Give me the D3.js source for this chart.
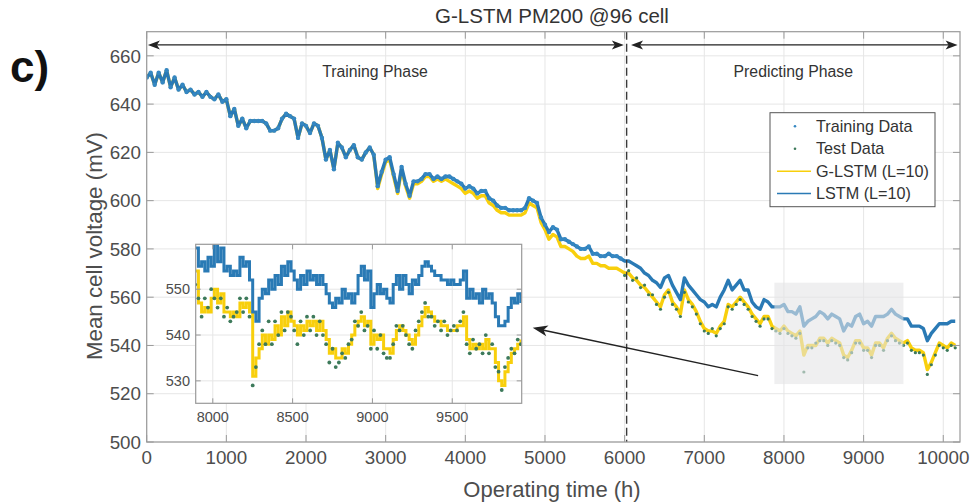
<!DOCTYPE html>
<html><head><meta charset="utf-8">
<script src="https://cdn.jsdelivr.net/npm/d3@7"></script>
<style>
html,body{margin:0;padding:0;background:#fff;}
svg{display:block;font-family:Arial,"Liberation Sans",Helvetica,sans-serif;}
</style></head>
<body>
<svg id="chart" width="974" height="503"></svg>
<script>
// ---------------- DATA ----------------
const mainStart = 0, mainStep = 50;           // hours, sampling of the main series
const trainingData = [ // 0 .. 5950 h
651,653,648,653,649,654,647,651,646,648,
645,646,644,645,643,645,643,642,644,641,
642,635,638,631,634,630,633,633,633,633,
632,629,629,630,634,636,635,634,626,632,
631,628,632,631,626,617,621,613,624,622,
618,621,623,618,617,620,622,619,606,612,
617,618,611,604,614,607,602,608,608,609,
611,611,609,610,609,610,610,609,608,607,
605,606,605,603,604,604,601,600,598,597,
597,596,596,596,596,597,601,600,599,593,
590,587,589,588,584,584,583,582,581,580,
580,581,578,578,577,577,578,577,577,576];
const testData = [ // 6000 .. 10150 h
569,571,567,568,564,565,561,561,557,555,560,562,557,555,552,562,558,556,553,549,
546,545,547,544,547,549,556,555,557,559,557,555,552,550,548,551,551,547,546,545,
547,545,544,543,545,529,539,539,541,542,542,540,542,541,540,535,534,537,541,541,
538,538,535,540,540,538,542,544,542,541,540,541,538,537,537,536,528,532,536,540,
539,538,540,539];
const glstmTrain = [ // G-LSTM fit, 0 .. 5950 h
651,653,648,653,649,654,647,651,646,648,
645,646,644,645,643,645,643,642,644,641,
642,635,638,631,634,630,633,633,633,633,
632,629,629,630,634,636,635,634,626,632,
631,628,632,631,626,617,621,613,624,622,
618,621,623,618,617,620,622,619,605,611,
616,617,610,603,613,606,601,607,607,608,
610,610,608,609,608,609,
608,607,606,605,603,604,603,601,602,602,
599,598,596,595,595,594,594,594,594,595,
599,598,597,591,588,584,586,585,581,581,
580,579,577,576,576,577,574,574,573,573,
572,572,572,571];
const glstmPredict = [ // 6000 .. 10150 h
570,570,568,567,565,564,562,560,558,556,561,563,558,556,553,563,559,557,554,550,
547,546,546,545,548,550,557,556,558,560,558,556,553,551,549,552,552,548,547,546,
548,546,545,544,546,536,540,540,540,543,543,541,543,542,541,536,535,538,542,542,
539,539,536,541,541,539,543,545,543,542,541,542,539,538,538,537,530,533,537,541,
540,539,541,540];
const lstmTrain = [ // LSTM fit, 0 .. 5950 h
651,653,648,653,649,654,647,651,646,648,
645,646,644,645,643,645,643,642,644,641,
642,635,638,631,634,630,633,633,633,633,
632,629,629,630,634,636,635,634,626,632,
631,628,632,631,626,617,621,613,624,622,
618,621,623,618,617,620,622,619,606,612,
617,618,611,604,614,607,602,608,608,609,
611,611,609,610,609,610,610,609,608,607,
605,606,605,603,604,604,601,600,598,597,
597,596,596,596,596,597,601,600,599,593,
590,587,589,588,584,584,583,582,581,580,
580,581,578,578,577,577,578,577,577,576];
const lstmPredict = [ // 6000 .. 10150 h
575,575,574,573,572,570,569,567,566,564,568,569,565,562,559,568,565,563,561,559,
558,556,557,556,560,563,567,563,565,567,563,563,558,556,555,559,558,556,556,556,
557,554,554,553,556,548,550,551,552,554,553,551,553,552,551,546,549,548,552,553,
549,550,548,552,552,552,553,555,553,552,551,551,548,548,548,547,542,545,547,549,
549,549,550,550];

// inset (zoom) series, 7890 .. 9930 h every 20 h
const insetStart = 7890, insetStep = 20;
const insetLSTM = [
559,555,556,554,557,555,560,556,559,554,555,553,554,553,557,555,556,552,545,543,
548,550,549,552,550,553,551,555,553,556,554,552,550,553,551,554,552,553,551,553,
551,549,547,546,548,547,550,548,549,547,549,553,555,552,554,546,549,551,549,550,
548,547,551,553,550,553,551,549,552,551,553,555,556,555,554,553,553,552,552,551,
552,551,551,552,554,548,550,548,549,547,550,548,549,547,544,542,542,543,546,548,
547,549,547];
const insetGLSTM = [
554,547,545,546,545,548,550,547,549,545,545,544,545,544,547,546,547,545,531,535,
537,540,538,540,539,542,540,544,542,545,543,542,540,542,541,543,542,543,541,543,
541,539,536,537,535,535,537,536,538,540,542,543,544,542,543,538,540,539,540,537,
537,536,539,541,542,541,540,539,538,540,542,544,546,545,544,543,543,542,542,541,
541,541,542,542,544,539,537,538,537,538,537,539,537,537,534,530,529,532,534,536,
537,538,539];
const insetTest = [
551,548,544,548,546,550,548,546,548,544,546,543,544,545,548,545,548,544,529,533,
538,541,538,543,538,543,540,545,541,545,544,541,538,543,540,544,541,544,540,543,
540,538,534,537,533,534,536,535,538,539,543,542,545,541,542,537,541,537,540,536,
535,535,538,542,541,542,540,538,537,541,543,545,547,544,544,542,543,541,543,540,
541,542,541,543,545,538,536,539,537,538,536,540,536,538,533,532,528,533,535,537,
536,539,538];

const xTicks = [0,1000,2000,3000,4000,5000,6000,7000,8000,9000,10000];
const yTicks = [500,520,540,560,580,600,620,640,660];
const insetXTicks = [8000,8500,9000,9500];
const insetYTicks = [530,540,550];
const legendLabels = ["Training Data","Test Data","G-LSTM (L=10)","LSTM (L=10)"];
const titleText = "G-LSTM PM200 @96 cell";
const splitHour = 6025;
const zoomBox = {x0:7880, x1:9500, y0:524, y1:566};

// ---------------- STYLE ----------------
const C = {
  lstm:'#2a7ab5', glstm:'#f8cf0c', train:'#3587c2', test:'#3d7a5b',
  grid:'#e6e6e6', axis:'#9a9a9a', tick:'#4d4d4d'
};

// ---------------- BUILD ----------------
const svg = d3.select('#chart');
svg.append('rect').attr('width',974).attr('height',503).attr('fill','#fff');

const M = {l:146.7, r:960, t:31.7, b:442};
const x = d3.scaleLinear().domain([0,10210]).range([M.l,M.r]);
const y = d3.scaleLinear().domain([500,670]).range([M.b,M.t]);

const tMain = i => mainStart + i*mainStep;
const trainPts = trainingData.map((v,i)=>({t:tMain(i),v}));
const testPts = testData.map((v,i)=>({t:tMain(i+trainingData.length),v}));
const glstmPts = glstmTrain.concat(glstmPredict).map((v,i)=>({t:tMain(i),v}));
const lstmPts = lstmTrain.concat(lstmPredict).map((v,i)=>({t:tMain(i),v}));

// grid
const g = svg.append('g');
g.selectAll('.gx').data(xTicks).join('line')
  .attr('x1',d=>x(d)).attr('x2',d=>x(d)).attr('y1',M.t).attr('y2',M.b)
  .attr('stroke',C.grid).attr('stroke-width',1);
g.selectAll('.gy').data(yTicks).join('line')
  .attr('x1',M.l).attr('x2',M.r).attr('y1',d=>y(d)).attr('y2',d=>y(d))
  .attr('stroke',C.grid).attr('stroke-width',1);

svg.append('clipPath').attr('id','clipMain').append('rect')
  .attr('x',M.l).attr('y',M.t).attr('width',M.r-M.l).attr('height',M.b-M.t);
const data = svg.append('g').attr('clip-path','url(#clipMain)');

const lineMain = d3.line().x(d=>x(d.t)).y(d=>y(d.v));
data.append('path').datum(glstmPts).attr('d',lineMain).attr('fill','none')
  .attr('stroke',C.glstm).attr('stroke-width',3.4).attr('stroke-linejoin','round');
data.selectAll('.te').data(testPts).join('circle')
  .attr('cx',d=>x(d.t)).attr('cy',d=>y(d.v)).attr('r',1.6).attr('fill',C.test);
data.append('path').datum(lstmPts).attr('d',lineMain).attr('fill','none')
  .attr('stroke',C.lstm).attr('stroke-width',3.4).attr('stroke-linejoin','round');
data.selectAll('.tr').data(trainPts).join('circle')
  .attr('cx',d=>x(d.t)).attr('cy',d=>y(d.v)).attr('r',2.2).attr('fill',C.train);

// zoom box
svg.append('rect')
  .attr('x',x(zoomBox.x0)).attr('y',y(zoomBox.y1))
  .attr('width',x(zoomBox.x1)-x(zoomBox.x0)).attr('height',y(zoomBox.y0)-y(zoomBox.y1))
  .attr('fill','#e4e4e6').attr('opacity',0.6);

// split line
svg.append('line').attr('x1',x(splitHour)).attr('x2',x(splitHour))
  .attr('y1',M.t).attr('y2',M.b).attr('stroke','#3a3a3a').attr('stroke-width',1.4)
  .attr('stroke-dasharray','8,4');

// axes box + ticks
svg.append('rect').attr('x',M.l).attr('y',M.t).attr('width',M.r-M.l).attr('height',M.b-M.t)
  .attr('fill','none').attr('stroke',C.axis).attr('stroke-width',1.2);
const tk = svg.append('g').attr('stroke',C.axis).attr('stroke-width',1);
xTicks.forEach(d=>{
  tk.append('line').attr('x1',x(d)).attr('x2',x(d)).attr('y1',M.b).attr('y2',M.b-7);
  tk.append('line').attr('x1',x(d)).attr('x2',x(d)).attr('y1',M.t).attr('y2',M.t+7);
});
yTicks.forEach(d=>{
  tk.append('line').attr('x1',M.l).attr('x2',M.l+7).attr('y1',y(d)).attr('y2',y(d));
  tk.append('line').attr('x1',M.r).attr('x2',M.r-7).attr('y1',y(d)).attr('y2',y(d));
});
svg.append('g').selectAll('text').data(xTicks).join('text')
  .attr('x',d=>x(d)).attr('y',463.5).attr('text-anchor','middle')
  .attr('font-size',18.8).attr('fill',C.tick).text(d=>d);
svg.append('g').selectAll('text').data(yTicks).join('text')
  .attr('x',141).attr('y',d=>y(d)+6.7).attr('text-anchor','end')
  .attr('font-size',18.8).attr('fill',C.tick).text(d=>d);

// axis labels, title, panel letter
svg.append('text').attr('x',552).attr('y',497).attr('text-anchor','middle')
  .attr('font-size',22).attr('fill','#4d4d4d').text('Operating time (h)');
svg.append('text').attr('transform','translate(101.5,246) rotate(-90)')
  .attr('text-anchor','middle').attr('font-size',22.3).attr('fill','#4d4d4d')
  .text('Mean cell voltage (mV)');
svg.append('text').attr('x',552).attr('y',22.5).attr('text-anchor','middle')
  .attr('font-size',20.5).attr('fill','#333').text(titleText);
svg.append('text').attr('x',10).attr('y',82).attr('font-size',44).attr('font-weight','bold')
  .attr('fill','#111').text('c)');

// phase arrows
function dblArrow(x1,x2,yy){
  const a = svg.append('g');
  a.append('line').attr('x1',x1+3).attr('x2',x2-3).attr('y1',yy).attr('y2',yy)
    .attr('stroke','#222').attr('stroke-width',1.3);
  a.append('path').attr('d',`M${x1},${yy} L${x1+12},${yy-4.5} L${x1+9},${yy} L${x1+12},${yy+4.5} Z`).attr('fill','#222');
  a.append('path').attr('d',`M${x2},${yy} L${x2-12},${yy-4.5} L${x2-9},${yy} L${x2-12},${yy+4.5} Z`).attr('fill','#222');
}
dblArrow(x(15),x(5990),y(664.5));
dblArrow(x(6080),x(10180),y(664.5));
svg.append('text').attr('x',x(2866)).attr('y',y(651.4)).attr('text-anchor','middle')
  .attr('font-size',15.8).attr('fill','#333').text('Training Phase');
svg.append('text').attr('x',x(8117)).attr('y',y(651.4)).attr('text-anchor','middle')
  .attr('font-size',15.8).attr('fill','#333').text('Predicting Phase');

// ---------------- INSET ----------------
const I = {l:195.7, r:521.7, t:244.3, b:403.3};
const xi = d3.scaleLinear().domain([7893,9935]).range([I.l,I.r]);
const yi = d3.scaleLinear().domain([525.1,559.8]).range([I.b,I.t]);
const ins = svg.append('g');
ins.append('rect').attr('x',I.l).attr('y',I.t).attr('width',I.r-I.l).attr('height',I.b-I.t).attr('fill','#fff');
ins.selectAll('.igx').data(insetXTicks).join('line')
  .attr('x1',d=>xi(d)).attr('x2',d=>xi(d)).attr('y1',I.t).attr('y2',I.b).attr('stroke',C.grid);
ins.selectAll('.igy').data(insetYTicks).join('line')
  .attr('x1',I.l).attr('x2',I.r).attr('y1',d=>yi(d)).attr('y2',d=>yi(d)).attr('stroke',C.grid);
svg.append('clipPath').attr('id','clipIns').append('rect')
  .attr('x',I.l).attr('y',I.t).attr('width',I.r-I.l).attr('height',I.b-I.t);
const insD = ins.append('g').attr('clip-path','url(#clipIns)');
const tIns = i => insetStart + i*insetStep;
const lineIns = d3.line().x(d=>xi(d.t)).y(d=>yi(d.v)).curve(d3.curveStepAfter);
insD.append('path').datum(insetGLSTM.map((v,i)=>({t:tIns(i),v}))).attr('d',lineIns)
  .attr('fill','none').attr('stroke',C.glstm).attr('stroke-width',3);
insD.append('path').datum(insetLSTM.map((v,i)=>({t:tIns(i),v}))).attr('d',lineIns)
  .attr('fill','none').attr('stroke',C.lstm).attr('stroke-width',3);
insD.selectAll('circle').data(insetTest.map((v,i)=>({t:tIns(i),v}))).join('circle')
  .attr('cx',d=>xi(d.t)).attr('cy',d=>yi(d.v)).attr('r',1.9).attr('fill',C.test);
ins.append('rect').attr('x',I.l).attr('y',I.t).attr('width',I.r-I.l).attr('height',I.b-I.t)
  .attr('fill','none').attr('stroke',C.axis).attr('stroke-width',1.2);
insetXTicks.forEach(d=>{
  ins.append('line').attr('x1',xi(d)).attr('x2',xi(d)).attr('y1',I.b).attr('y2',I.b-5).attr('stroke',C.axis);
  ins.append('line').attr('x1',xi(d)).attr('x2',xi(d)).attr('y1',I.t).attr('y2',I.t+5).attr('stroke',C.axis);
});
insetYTicks.forEach(d=>{
  ins.append('line').attr('x1',I.l).attr('x2',I.l+5).attr('y1',yi(d)).attr('y2',yi(d)).attr('stroke',C.axis);
  ins.append('line').attr('x1',I.r).attr('x2',I.r-5).attr('y1',yi(d)).attr('y2',yi(d)).attr('stroke',C.axis);
});
ins.selectAll('.ixt').data(insetXTicks).join('text')
  .attr('x',d=>xi(d)).attr('y',421.5).attr('text-anchor','middle')
  .attr('font-size',14.5).attr('fill',C.tick).text(d=>d);
ins.selectAll('.iyt').data(insetYTicks).join('text')
  .attr('x',190).attr('y',d=>yi(d)+5).attr('text-anchor','end')
  .attr('font-size',14.5).attr('fill',C.tick).text(d=>d);

// pointer arrow from zoom box to inset
(function(){
  const x1=x(7675), y1=y(527.5), x2=x(4846), y2=y(547.3);
  const ang = Math.atan2(y2-y1,x2-x1);
  svg.append('line').attr('x1',x1).attr('y1',y1)
    .attr('x2',x2-10*Math.cos(ang)).attr('y2',y2-10*Math.sin(ang))
    .attr('stroke','#222').attr('stroke-width',1.5);
  const L=15,Wd=5.5;
  const bx=x2-L*Math.cos(ang), by=y2-L*Math.sin(ang);
  const nx=-Math.sin(ang), ny=Math.cos(ang);
  const mx=x2-11*Math.cos(ang), my=y2-11*Math.sin(ang);
  svg.append('path').attr('d',`M${x2},${y2} L${bx+nx*Wd},${by+ny*Wd} L${mx},${my} L${bx-nx*Wd},${by-ny*Wd} Z`)
    .attr('fill','#222');
})();

// ---------------- LEGEND ----------------
const lg = svg.append('g');
lg.append('rect').attr('x',770).attr('y',112.7).attr('width',165).attr('height',94)
  .attr('fill','#fff').attr('stroke','#555').attr('stroke-width',1);
const rows = [131.7,154.3,176.7,199];
legendLabels.forEach((lab,i)=>{
  lg.append('text').attr('x',816).attr('y',rows[i]).attr('font-size',16.2)
    .attr('fill','#333').text(lab);
  const cy = rows[i]-5.5;
  if(i===0) lg.append('circle').attr('cx',795).attr('cy',cy).attr('r',1.3).attr('fill',C.train);
  if(i===1) lg.append('circle').attr('cx',795).attr('cy',cy).attr('r',1.3).attr('fill',C.test);
  if(i===2) lg.append('line').attr('x1',777).attr('x2',811).attr('y1',cy).attr('y2',cy).attr('stroke',C.glstm).attr('stroke-width',1.5);
  if(i===3) lg.append('line').attr('x1',777).attr('x2',811).attr('y1',cy).attr('y2',cy).attr('stroke',C.lstm).attr('stroke-width',1.5);
});
</script>
</body></html>
